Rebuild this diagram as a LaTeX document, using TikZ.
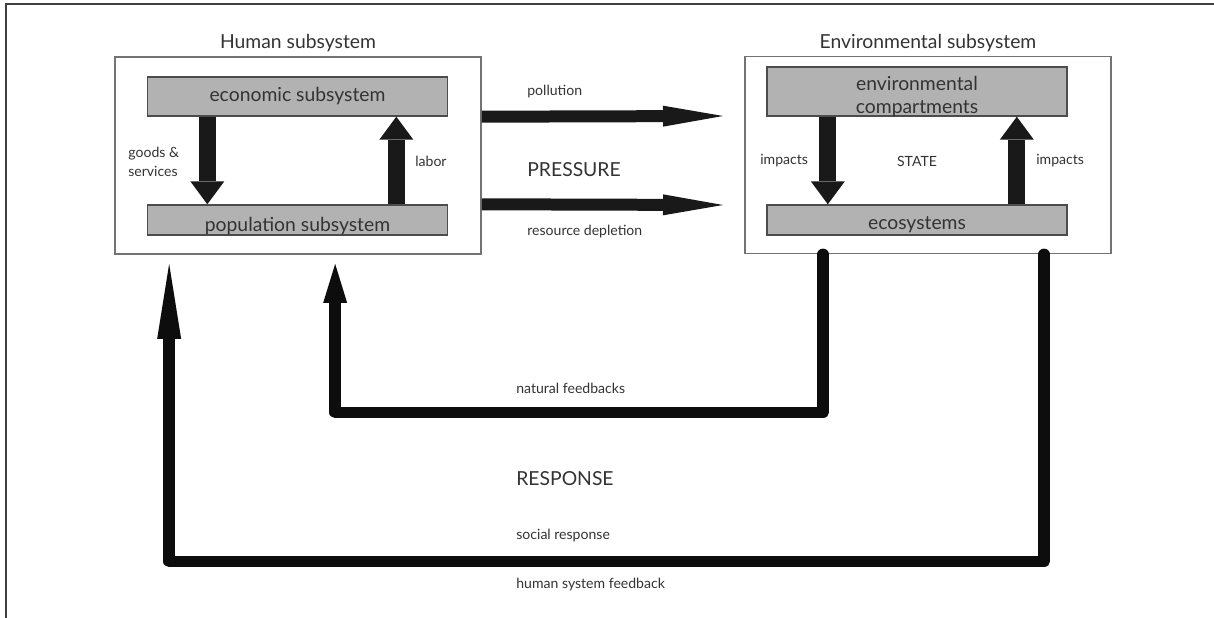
\documentclass[tikz,border=0pt]{standalone}
\usepackage{fontspec}
\setmainfont{Lato}
\usetikzlibrary{arrows.meta,calc}
\newcommand{\sinktext}[2]{\raisebox{-#1}[\height][\depth]{#2}}

\begin{document}
\begin{tikzpicture}[x=0.02cm,y=-0.02cm,every node/.style={text=black!80},
		big/.style={font=\fontsize{11}{13}\selectfont},
		small/.style={font=\fontsize{8}{11}\selectfont},
		lbl/.style={small,anchor=west,inner sep=0pt},
		sys/.style={draw=black!55,line width=1pt,minimum width=7.32cm,minimum height=3.94cm,inner sep=0pt},
		sub/.style={draw=black!70,fill=black!30,line width=0.8pt,minimum width=6cm,inner sep=0pt,big},
		fat/.style={line width=0.34cm,black!90,-{Triangle[width=0.68cm,length=0.46cm,line width=0pt]}},
		press/.style={line width=0.24cm,black!90,-{Triangle[width=0.42cm,length=1.2cm,line width=0pt]}},
		fb/.style={line width=0.23cm,black!95,line join=round,line cap=round}]
		\useasboundingbox (0,0) rectangle (1214,618);
		\draw[black!75,line width=0.8pt] (6,618) -- (6,4) -- (1214,4);
		
		\node[sys] (hum) at (298,155.5) {};
		\node[sys] (env) at (928,155) {};
		\node[big,anchor=south,inner sep=2pt] (humt) at (hum.north) {Human subsystem};
		\node[big,anchor=south,inner sep=2pt] (envt) at (env.north) {Environmental subsystem};
		
		\node[sub,minimum height=0.78cm] (econ) at (297.5,96.5) {economic subsystem};
		\node[sub,minimum height=0.6cm] (pop) at (297.5,220) {\sinktext{3.2pt}{population subsystem}};
		\node[sub,minimum height=0.98cm] (comp) at (917,91.5) {\sinktext{3.6pt}{\begin{tabular}{@{}c@{}}environmental\\compartments\end{tabular}}};
		\node[sub,minimum height=0.6cm] (ecos) at (917,220) {\sinktext{2.6pt}{ecosystems}};
		
		\draw[fat] ($(econ.south west)+(60.5,0)$) -- ($(pop.north west)+(60.5,0)$);
		\draw[fat] ($(pop.north west)+(249.5,0)$) -- ($(econ.south west)+(249.5,0)$);
		\draw[fat] ($(comp.south west)+(61.5,0)$) -- ($(ecos.north west)+(61.5,0)$);
		\draw[fat] ($(ecos.north west)+(250.5,0)$) -- ($(comp.south west)+(250.5,0)$);
		
		\coordinate (p1) at (723,116);
		\coordinate (p2) at (723,205);
		\draw[press] (hum.east |- econ.south) -- (p1);
		\draw[press] (hum.east |- pop.north) -- (p2);
		
		\coordinate (nf) at ($(env.south west)+(79,0)$);
		\coordinate (hf) at ($(env.south west)+(300,0)$);
		\coordinate (nt) at ($(hum.south west)+(221,9)$);
		\coordinate (ht) at ($(hum.south west)+(55,9)$);
		\draw[fb,-{Triangle[width=0.48cm,length=0.78cm,line width=0pt]}] (nf) -- ++(0,158) -| (nt);
		\draw[fb,-{Triangle[width=0.48cm,length=1.5cm,line width=0pt]}] (hf) -- ++(0,307) -| (ht);
		
		\node[lbl,align=left] (gs) at (128,162) {goods \&\\services};
		\node[lbl] (lab) at (415,161) {labor};
		\node[lbl] (imp1) at (760,161) {impacts};
		\node[small] (state) at (917,161) {STATE};
		\node[lbl] (imp2) at (1036,161) {impacts};
		
		\node[lbl] (poll) at (527,92) {pollution};
		\node[lbl,big] (pres) at (527,170) {PRESSURE};
		\node[lbl] (depl) at (527,232) {resource depletion};
		\node[lbl] (natf) at (516,388) {natural feedbacks};
		\node[lbl,big] (resp) at (516,479) {RESPONSE};
		\node[lbl] (socr) at (516,536) {social response};
		\node[lbl] (humf) at (516,585) {human system feedback};
	\end{tikzpicture}
\end{document}
